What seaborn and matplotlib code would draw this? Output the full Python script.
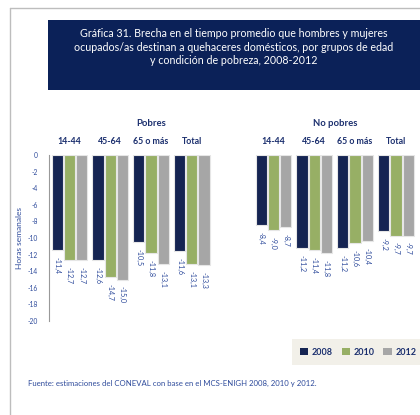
import numpy as np
import pandas as pd
import matplotlib.pyplot as plt
import seaborn as sns
from matplotlib.patches import Rectangle
from matplotlib.lines import Line2D

# datos
condiciones = ['Pobres', 'No pobres']
edades = ['14-44', '45-64', '65 o más', 'Total']
anios = ['2008', '2010', '2012']
pobres_2008 = [-11.4, -12.6, -10.5, -11.6]
pobres_2010 = [-12.7, -14.7, -11.8, -13.1]
pobres_2012 = [-12.7, -15.0, -13.1, -13.3]
nopobres_2008 = [-8.4, -11.2, -11.2, -9.2]
nopobres_2010 = [-9.0, -11.4, -10.6, -9.7]
nopobres_2012 = [-8.7, -11.8, -10.4, -9.7]
yticks = list(range(0, -21, -2))

colores = ['#0b1f5c', '#9bbb59', '#a6a6a6']
navy = '#1b2f6e'
azul = '#2d4a9b'

filas = []
for cond, series in [('Pobres', [pobres_2008, pobres_2010, pobres_2012]),
                     ('No pobres', [nopobres_2008, nopobres_2010, nopobres_2012])]:
    for a, vals in zip(anios, series):
        for e, v in zip(edades, vals):
            filas.append({'grupo': cond + ' ' + e, 'anio': a, 'horas': v})
df = pd.DataFrame(filas)
orden = ['Pobres ' + e for e in edades] + [' '] + ['No pobres ' + e for e in edades]

sns.set_style('white')
plt.rcParams['font.family'] = ['Lato', 'DejaVu Sans']

fig = plt.figure(figsize=(4.2, 4.15), dpi=100)
W, H = 420, 415

# marco de pagina
fig.add_artist(Line2D([10 / W, 10 / W], [0, 1 - 8 / H], color='#bdbdbd', lw=1))
fig.add_artist(Line2D([10 / W, 1], [1 - 8 / H, 1 - 8 / H], color='#bdbdbd', lw=1))

# caja del titulo
fig.add_artist(Rectangle((48 / W, 1 - 90 / H), 1 - 48 / W, 70 / H,
                         transform=fig.transFigure, facecolor='#0b2158', edgecolor='none'))
fig.text(234 / W, 1 - 28 / H,
         'Gráfica 31. Brecha en el tiempo promedio que hombres y mujeres\n'
         'ocupados/as destinan a quehaceres domésticos, por grupos de edad\n'
         'y condición de pobreza, 2008-2012',
         ha='center', va='top', color='white', fontsize=7.7, linespacing=1.3)

ax = fig.add_axes([49 / W, 1 - 321 / H, 1 - 49 / W, 166 / H])
sns.barplot(data=df, x='grupo', y='horas', hue='anio', order=orden, hue_order=anios,
            palette=colores, width=0.9, gap=0.08, edgecolor='#e6e6e6', linewidth=0.8,
            ax=ax, legend=True)

ax.set_ylim(-20, 0)
ax.set_xlim(-0.5, 8.59)
ax.set_yticks(yticks)
ax.set_yticklabels([str(t) for t in yticks], fontsize=4.8, color=azul)
ax.tick_params(axis='y', length=0, pad=8)
ax.set_xticks([])
ax.set_xlabel('')
ax.set_ylabel('Horas semanales', fontsize=6, color=azul, labelpad=3)
for s in ['top', 'right', 'bottom']:
    ax.spines[s].set_visible(False)
ax.spines['left'].set_color('#999999')
ax.spines['left'].set_linewidth(0.8)

# etiquetas de valores
for cont in ax.containers:
    etiquetas = [('%.1f' % b.get_height()).replace('.', ',') for b in cont]
    ax.bar_label(cont, labels=etiquetas, rotation=270, fontsize=5.2, color=azul,
                 padding=5)

# etiquetas de grupos arriba
for i, cat in enumerate(orden):
    if cat.strip() == '':
        continue
    e = cat.split(' ', 1)[1] if cat.startswith('Pobres') else cat.split(' ', 2)[2]
    ax.text(i, 1 + 13 / 166, e, ha='center', va='center', fontsize=6.3,
            fontweight='bold', color=navy, transform=ax.get_xaxis_transform())
ax.text(2.0, 1 + 31 / 166, 'Pobres', ha='center', va='center', fontsize=6.8,
        fontweight='bold', color=navy, transform=ax.get_xaxis_transform())
ax.text(6.5, 1 + 31 / 166, 'No pobres', ha='center', va='center', fontsize=6.8,
        fontweight='bold', color=navy, transform=ax.get_xaxis_transform())

# leyenda
h, l = ax.get_legend_handles_labels()
ax.get_legend().remove()
leg = fig.legend(h, l, loc='center', bbox_to_anchor=(358 / W, 1 - 352 / H), ncol=3,
                 frameon=True, fontsize=6.5, handlelength=0.9, handleheight=0.9,
                 handletextpad=0.4, columnspacing=1.0, borderpad=0.9)
leg.get_frame().set_facecolor('#efede4')
leg.get_frame().set_edgecolor('none')
leg.get_frame().set_boxstyle('square', pad=0)
for t in leg.get_texts():
    t.set_color(navy)
    t.set_fontweight('bold')
for p in leg.legend_handles:
    p.set_edgecolor('none')

fig.text(28 / W, 1 - 383 / H,
         'Fuente: estimaciones del CONEVAL con base en el MCS-ENIGH 2008, 2010 y 2012.',
         fontsize=5.6, color=azul, va='center')

fig.savefig('out.png', dpi=100)
